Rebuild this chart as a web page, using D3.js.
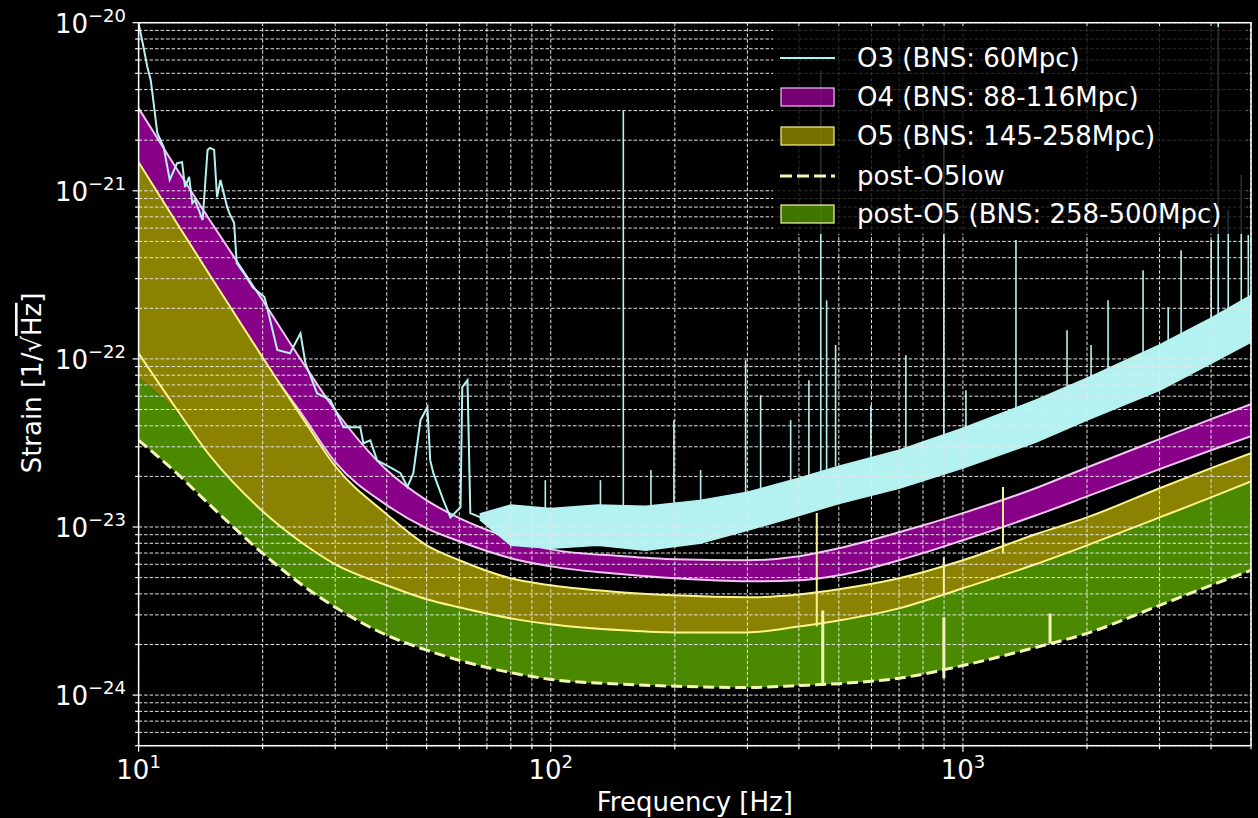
<!DOCTYPE html>
<html>
<head>
<meta charset="UTF-8">
<title>Strain sensitivity O3 - post-O5</title>
<script src="https://d3js.org/d3.v7.min.js"></script>
<style>
  body { margin: 0; background: #000; }
  text { font-family: "DejaVu Sans", sans-serif; fill: #fff; }
</style>
</head>
<body>
<svg width="1258" height="818"></svg>
<script>
// frequency grid of the design curves (Hz)
const freqs = [10, 12, 15, 20, 25, 30, 40, 50, 60, 80, 100, 150, 200, 300, 400, 500, 700, 1000, 1500, 2000, 3000, 4000, 5000];
// strain [1/sqrt(Hz)]
const o4High = [3.10e-21, 1.52e-21, 6.5e-22, 2.23e-22, 9.55e-23, 4.95e-23, 2.18e-23, 1.44e-23, 1.13e-23, 8.57e-24, 7.36e-24, 6.70e-24, 6.43e-24, 6.34e-24, 6.70e-24, 7.47e-24, 9.30e-24, 1.21e-23, 1.70e-23, 2.26e-23, 3.33e-23, 4.38e-23, 5.37e-23];
const o4Low = [1.01e-21, 6.25e-22, 2.75e-22, 9.82e-23, 4.62e-23, 2.43e-23, 1.35e-23, 9.82e-24, 8.22e-24, 6.52e-24, 5.83e-24, 5.23e-24, 4.95e-24, 4.75e-24, 4.82e-24, 5.16e-24, 6.34e-24, 8.34e-24, 1.17e-23, 1.52e-23, 2.21e-23, 2.86e-23, 3.47e-23];
const o5High = [1.48e-21, 7.26e-22, 3.06e-22, 1.02e-22, 4.44e-23, 2.30e-23, 1.19e-23, 7.78e-24, 6.34e-24, 4.95e-24, 4.50e-24, 4.08e-24, 3.92e-24, 3.82e-24, 3.97e-24, 4.26e-24, 4.95e-24, 6.34e-24, 9.05e-24, 1.14e-23, 1.70e-23, 2.24e-23, 2.75e-23];
const o5Low = [1.08e-22, 5.60e-23, 2.60e-23, 1.24e-23, 8.0e-24, 6.0e-24, 4.50e-24, 3.72e-24, 3.33e-24, 2.86e-24, 2.64e-24, 2.43e-24, 2.36e-24, 2.36e-24, 2.56e-24, 2.78e-24, 3.28e-24, 4.32e-24, 6.0e-24, 7.78e-24, 1.14e-23, 1.50e-23, 1.87e-23];
const postO5High = [7.67e-23, 5.22e-23, 2.60e-23, 1.24e-23, 8.0e-24, 6.0e-24, 4.50e-24, 3.72e-24, 3.33e-24, 2.86e-24, 2.64e-24, 2.43e-24, 2.36e-24, 2.36e-24, 2.56e-24, 2.78e-24, 3.28e-24, 4.32e-24, 6.0e-24, 7.78e-24, 1.14e-23, 1.50e-23, 1.87e-23];
const postO5Low = [3.28e-23, 2.24e-23, 1.33e-23, 6.97e-24, 4.50e-24, 3.33e-24, 2.27e-24, 1.85e-24, 1.61e-24, 1.36e-24, 1.24e-24, 1.16e-24, 1.13e-24, 1.11e-24, 1.14e-24, 1.17e-24, 1.26e-24, 1.50e-24, 1.92e-24, 2.33e-24, 3.42e-24, 4.50e-24, 5.52e-24];

// narrow lines in the design curves
const o5LineFreq = [442, 899, 1251];
const o5LineBase = [2.56e-24, 3.97e-24, 6.95e-24];
const o5LinePeak = [1.21e-23, 6.6e-24, 1.73e-23];
const postLineFreq = [457, 899, 1627];
const postLineBase = [1.14e-24, 1.26e-24, 2.03e-24];
const postLinePeak = [3.19e-24, 2.90e-24, 3.06e-24];

// O3 measured spectrum, low-frequency trace
const o3Freq = [10, 10.25, 10.5, 10.7, 10.8, 11.1, 11.5, 11.9, 12.4, 12.75, 12.96, 13.26, 13.5, 13.7, 14.3, 14.7, 14.9, 15.25, 15.5, 15.8, 16.4, 16.6, 17.05, 17.3, 18.0, 18.9, 20.2, 20.5, 21.7, 23.3, 24.7, 25.4, 27.1, 29.2, 31.4, 34.5, 35.1, 36.5, 37.9, 40.8, 43.2, 44.9, 46.4, 48.3, 50.2, 51.0, 51.9, 54.9, 57.1, 60.4, 61.0, 62.8, 63.8, 67.5, 74.2];
const o3Strain = [9.9e-21, 7.4e-21, 5.45e-21, 4.56e-21, 3.82e-21, 2.21e-21, 1.82e-21, 1.16e-21, 1.46e-21, 1.48e-21, 1.05e-21, 1.21e-21, 8.45e-22, 8.8e-22, 6.7e-22, 1.75e-21, 1.80e-21, 1.75e-21, 9.17e-22, 1.16e-21, 8.0e-22, 7.36e-22, 6.43e-22, 3.71e-22, 3.24e-22, 2.67e-22, 2.33e-22, 2.03e-22, 1.13e-22, 1.08e-22, 1.42e-22, 9.42e-23, 6.25e-23, 5.68e-23, 3.92e-23, 3.92e-23, 3.15e-23, 3.28e-23, 2.49e-23, 2.26e-23, 2.09e-23, 1.73e-23, 2.09e-23, 4.32e-23, 5.16e-23, 2.49e-23, 2.09e-23, 1.44e-23, 1.14e-23, 1.31e-23, 6.79e-23, 7.47e-23, 1.21e-23, 1.14e-23, 1.05e-23];
// O3 noise band (envelopes) above ~70 Hz
const o3BandFreq = [67.5, 80, 100, 130, 170, 230, 300, 400, 500, 700, 1000, 1500, 2000, 3000, 4000, 5000];
const o3BandHigh = [1.2e-23, 1.35e-23, 1.29e-23, 1.35e-23, 1.33e-23, 1.44e-23, 1.61e-23, 1.95e-23, 2.30e-23, 2.86e-23, 3.87e-23, 5.68e-23, 7.67e-23, 1.21e-22, 1.75e-22, 2.39e-22];
const o3BandLow = [1.1e-23, 7.78e-24, 7.47e-24, 7.78e-24, 7.27e-24, 8.0e-24, 9.56e-24, 1.17e-23, 1.38e-23, 1.70e-23, 2.24e-23, 3.19e-23, 4.32e-23, 6.51e-23, 9.42e-23, 1.26e-22];
// O3 lines (spikes): frequency, foot, top
const o3SpikeFreq = [97, 132, 150, 175, 199, 231, 297, 323, 382, 423, 452, 467, 491, 598, 727, 899, 1017, 1345, 1789, 2046, 2250, 2736, 3148, 3384, 4003, 4163, 4403, 4735, 4925];
const o3SpikeBase = [1.29e-23, 1.35e-23, 1.35e-23, 1.33e-23, 1.4e-23, 1.44e-23, 1.6e-23, 1.7e-23, 1.9e-23, 2.0e-23, 2.1e-23, 2.2e-23, 2.3e-23, 2.6e-23, 2.9e-23, 3.5e-23, 3.9e-23, 5.1e-23, 6.7e-23, 7.9e-23, 8.7e-23, 1.1e-22, 1.25e-22, 1.35e-22, 1.75e-22, 1.8e-22, 1.95e-22, 2.2e-22, 2.35e-22];
const o3SpikePeak = [1.9e-23, 1.9e-23, 3.0e-21, 2.18e-23, 4.32e-23, 2.18e-23, 9.82e-23, 6.08e-23, 4.32e-23, 7.47e-23, 5.2e-21, 2.23e-22, 1.21e-22, 5.3e-23, 1.05e-22, 2.09e-21, 6.51e-23, 5.09e-22, 1.48e-22, 1.21e-22, 2.23e-22, 3.37e-22, 2.03e-22, 4.43e-22, 5.09e-22, 1.0e-20, 7.67e-22, 1.24e-21, 5.45e-22];

const legendLabels = ["O3 (BNS: 60Mpc)", "O4 (BNS: 88-116Mpc)", "O5 (BNS: 145-258Mpc)", "post-O5low", "post-O5 (BNS: 258-500Mpc)"];

const svg = d3.select("svg");
const mLeft = 138.6, mRight = 1251, mTop = 22.7, mBottom = 745.7;

const colors = {
  cyan: "#b4f2f2",
  purple: "#880088",
  pink: "#f2c4f2",
  olive: "#8a8200",
  yellow: "#fbf48c",
  green: "#4b8a00",
  pale: "#f4f6b4"
};

svg.append("rect").attr("width", 1258).attr("height", 818).attr("fill", "#000");

const x = d3.scaleLog().domain([10, 5000]).range([mLeft, mRight]);
const y = d3.scaleLog().domain([5e-25, 1e-20]).range([mBottom, mTop]);

svg.append("clipPath").attr("id", "plot")
  .append("rect").attr("x", mLeft).attr("y", mTop).attr("width", mRight - mLeft).attr("height", mBottom - mTop);

const g = svg.append("g").attr("clip-path", "url(#plot)");

const design = freqs.map((f, i) => ({
  f, o4h: o4High[i], o4l: o4Low[i], o5h: o5High[i], o5l: o5Low[i], ph: postO5High[i], pl: postO5Low[i]
}));

function band(hi, lo) {
  return d3.area().curve(d3.curveMonotoneX)
    .x(d => x(d.f)).y0(d => y(d[lo])).y1(d => y(d[hi]));
}
function curve(key) {
  return d3.line().curve(d3.curveMonotoneX).x(d => x(d.f)).y(d => y(d[key]));
}
function stroke(key, color, width) {
  return g.append("path").datum(design).attr("d", curve(key))
    .attr("fill", "none").attr("stroke", color).attr("stroke-width", width);
}
function spikes(freq, base, peak, color, width) {
  g.append("g").selectAll("line").data(freq).join("line")
    .attr("x1", d => x(d)).attr("x2", d => x(d))
    .attr("y1", (d, i) => y(base[i])).attr("y2", (d, i) => y(peak[i]))
    .attr("stroke", color).attr("stroke-width", width);
}

// O4 band
g.append("path").datum(design).attr("d", band("o4h", "o4l")).attr("fill", colors.purple);
stroke("o4h", colors.pink, 2);
stroke("o4l", colors.pink, 2);
// O5 band is drawn over the low-frequency part of O4
g.append("path").datum(design).attr("d", band("o5h", "ph")).attr("fill", colors.olive);
g.append("path").datum(design).attr("d", band("ph", "pl")).attr("fill", colors.green);
stroke("o5h", colors.yellow, 2);
stroke("o5l", colors.yellow, 2);
spikes(o5LineFreq, o5LineBase, o5LinePeak, colors.yellow, 2);
stroke("pl", colors.pale, 3).attr("stroke-dasharray", "11,5");
spikes(postLineFreq, postLineBase, postLinePeak, colors.pale, 3);

// O3 noise band + trace
const o3Band = o3BandFreq.map((f, i) => ({ f, hi: o3BandHigh[i], lo: o3BandLow[i] }));
g.append("path").datum(o3Band)
  .attr("d", d3.area().x(d => x(d.f)).y0(d => y(d.lo)).y1(d => y(d.hi)))
  .attr("fill", colors.cyan).attr("stroke", colors.cyan).attr("stroke-width", 1.5);
const o3 = o3Freq.map((f, i) => ({ f, s: o3Strain[i] }));
g.append("path").datum(o3)
  .attr("d", d3.line().x(d => x(d.f)).y(d => y(d.s)))
  .attr("fill", "none").attr("stroke", colors.cyan).attr("stroke-width", 2);
spikes(o3SpikeFreq, o3SpikeBase, o3SpikePeak, colors.cyan, 1.6);

// grid (drawn above the fills)
const xMajor = [10, 100, 1000];
const xMinor = d3.range(2, 10).flatMap(m => [m * 10, m * 100, m * 1000]).filter(v => v <= 5000);
const yMajor = [1e-24, 1e-23, 1e-22, 1e-21, 1e-20];
const yMinor = [];
[-25, -24, -23, -22, -21].forEach(e => d3.range(2, 10).forEach(m => {
  const v = m * Math.pow(10, e);
  if (v >= 5e-25 && v < 1e-20) yMinor.push(v);
}));
const grid = svg.append("g").attr("stroke", "#e6e6e6").attr("stroke-width", 1).attr("stroke-dasharray", "3.5,2");
grid.selectAll(".gx").data(xMajor.concat(xMinor)).join("line")
  .attr("x1", d => x(d)).attr("x2", d => x(d)).attr("y1", mTop).attr("y2", mBottom);
grid.selectAll(".gy").data(yMajor.concat(yMinor)).join("line")
  .attr("y1", d => y(d)).attr("y2", d => y(d)).attr("x1", mLeft).attr("x2", mRight);

// ticks
const ticks = svg.append("g").attr("stroke", "#fff").attr("stroke-width", 1.2);
ticks.selectAll(".tx").data(xMajor).join("line")
  .attr("x1", d => x(d)).attr("x2", d => x(d)).attr("y1", mBottom).attr("y2", mBottom + 6);
ticks.selectAll(".txm").data(xMinor).join("line")
  .attr("x1", d => x(d)).attr("x2", d => x(d)).attr("y1", mBottom).attr("y2", mBottom + 3.5);
ticks.selectAll(".ty").data(yMajor).join("line")
  .attr("y1", d => y(d)).attr("y2", d => y(d)).attr("x1", mLeft).attr("x2", mLeft - 6);
ticks.selectAll(".tym").data(yMinor).join("line")
  .attr("y1", d => y(d)).attr("y2", d => y(d)).attr("x1", mLeft).attr("x2", mLeft - 3.5);

// frame
svg.append("rect").attr("x", mLeft).attr("y", mTop).attr("width", mRight - mLeft).attr("height", mBottom - mTop)
  .attr("fill", "none").attr("stroke", "#fff").attr("stroke-width", 1.5);

// tick labels
xMajor.forEach(v => {
  const t = svg.append("text").attr("x", x(v)).attr("y", mBottom + 33).attr("text-anchor", "middle").attr("font-size", 26);
  t.append("tspan").text("10");
  t.append("tspan").attr("dy", -11).attr("font-size", 18).text(Math.round(Math.log10(v)));
});
yMajor.forEach(v => {
  const t = svg.append("text").attr("x", 126).attr("y", y(v) + 10).attr("text-anchor", "end").attr("font-size", 26);
  t.append("tspan").text("10");
  t.append("tspan").attr("dy", -11).attr("font-size", 18).text("\u2212" + Math.abs(Math.round(Math.log10(v))));
});

// axis titles
svg.append("text").attr("x", (mLeft + mRight) / 2).attr("y", 811).attr("text-anchor", "middle")
  .attr("font-size", 26).text("Frequency [Hz]");
const yl = svg.append("text").attr("transform", "translate(41,383) rotate(-90)").attr("text-anchor", "middle").attr("font-size", 26);
yl.append("tspan").text("Strain [1/\u221A");
yl.append("tspan").style("text-decoration", "overline").text("Hz");
yl.append("tspan").text("]");

// legend (semi-transparent, lines behind it show through)
const lg = svg.append("g");
lg.append("rect").attr("x", 773).attr("y", 27).attr("width", 474).attr("height", 207)
  .attr("fill", "#000").attr("fill-opacity", 0.8).attr("rx", 4);
const rowY = [58, 97, 136, 176, 214];
lg.append("line").attr("x1", 780).attr("x2", 835).attr("y1", rowY[0]).attr("y2", rowY[0])
  .attr("stroke", colors.cyan).attr("stroke-width", 2);
[[1, colors.purple, colors.pink], [2, colors.olive, colors.yellow], [4, colors.green, colors.pale]].forEach(([i, f, s]) => {
  lg.append("rect").attr("x", 781).attr("y", rowY[i] - 9).attr("width", 53).attr("height", 18)
    .attr("fill", f).attr("fill-opacity", 0.85).attr("stroke", s).attr("stroke-width", 1.2);
});
lg.append("line").attr("x1", 780).attr("x2", 835).attr("y1", rowY[3]).attr("y2", rowY[3])
  .attr("stroke", colors.pale).attr("stroke-width", 3).attr("stroke-dasharray", "12,5");
lg.selectAll(".lt").data(legendLabels).join("text")
  .attr("x", 857).attr("y", (d, i) => rowY[i] + 9).attr("font-size", 26).text(d => d);
</script>
</body>
</html>
